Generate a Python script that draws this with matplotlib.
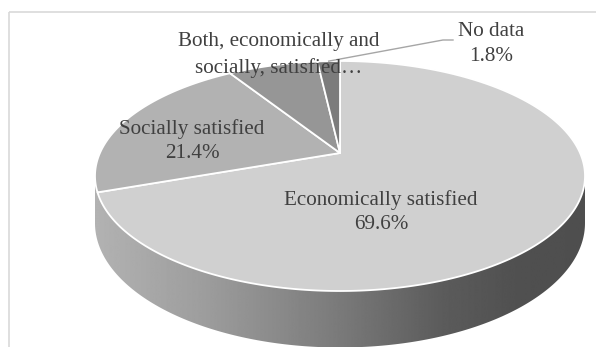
import numpy as np
import matplotlib.pyplot as plt
from matplotlib.patches import Polygon, Rectangle

# data
categories = ["Economically satisfied", "Socially satisfied",
              "Both, economically and\nsocially, satisfied\u2026", "No data"]
shares = [69.6, 21.4, 7.2, 1.8]
show_pct = [True, True, False, True]

top_colors = ["#d0d0d0", "#b2b2b2", "#969696", "#7c7c7c"]
# label block centres in pixels (x, y)
label_pos = [(381, 212), (192, 141), (279, 55), (491, 44)]

# 3d pie geometry (pixels), simple perspective camera
CX = 340.0
HW = 245.0
D = 5.0
YH = -399.0
A_TOP = 2760.0
A_BOT = 2986.0
B = HW * np.sqrt(D ** 2 - 1)


def project(theta, a, r=1.0):
    t = np.radians(theta)
    u, v = r * np.cos(t), r * np.sin(t)
    z = D + v
    return CX + B * u / z, YH + a / z


fig = plt.figure(figsize=(5.96, 3.47), dpi=100)
ax = fig.add_axes([0, 0, 1, 1])
ax.set_xlim(0, 596)
ax.set_ylim(347, 0)
ax.axis("off")

# chart border (only top/left visible)
ax.add_patch(Rectangle((8.5, 11.5), 700, 500, fill=False, ec="#d9d9d9", lw=1.2))

# side of the cylinder with horizontal gradient
sil = np.degrees(np.arcsin(1.0 / D))
th = np.linspace(180 + sil, 360 - sil, 200)
bx, by = project(th, A_BOT)
tx, ty = project(th[::-1], A_TOP)
side = Polygon(np.column_stack([np.r_[bx, tx], np.r_[by, ty]]), closed=True,
               fc="none", ec="none")
ax.add_patch(side)
gx = np.linspace(0, 596, 600)
gv = np.interp(gx, [95, 200, 340, 440, 520, 590], [178, 158, 122, 92, 80, 78])
img = ax.imshow(gv[None, :], extent=(0, 596, 347, 0), aspect="auto", cmap="gray",
                vmin=0, vmax=255, interpolation="bilinear", zorder=1)
img.set_clip_path(side)

# top face wedges, clockwise from 12 o'clock
apex = project(0, A_TOP, r=0.0)
start = 90.0
mids = []
for share, col in zip(shares, top_colors):
    end = start - share / 100.0 * 360.0
    ang = np.linspace(start, end, max(int(abs(end - start)), 2) * 2)
    px, py = project(ang, A_TOP)
    pts = np.column_stack([np.r_[apex[0], px], np.r_[apex[1], py]])
    ax.add_patch(Polygon(pts, closed=True, fc=col, ec="white", lw=1.3,
                         joinstyle="round", zorder=2))
    mids.append((start + end) / 2)
    start = end

# labels
for cat, share, pct, (lx, ly) in zip(categories, shares, show_pct, label_pos):
    txt = cat + ("\n%.1f%%" % share if pct else "")
    ax.text(lx, ly, txt, ha="center", va="center", fontsize=15.2,
            family="Liberation Serif", color="#404040", linespacing=1.42, zorder=4)

# leader line for "No data"
ex, ey = project(mids[3], A_TOP)
ax.plot([453, 443, ex], [40, 40, ey], color="#a6a6a6", lw=1.0, zorder=3)

fig.savefig("out.png", dpi=100)
